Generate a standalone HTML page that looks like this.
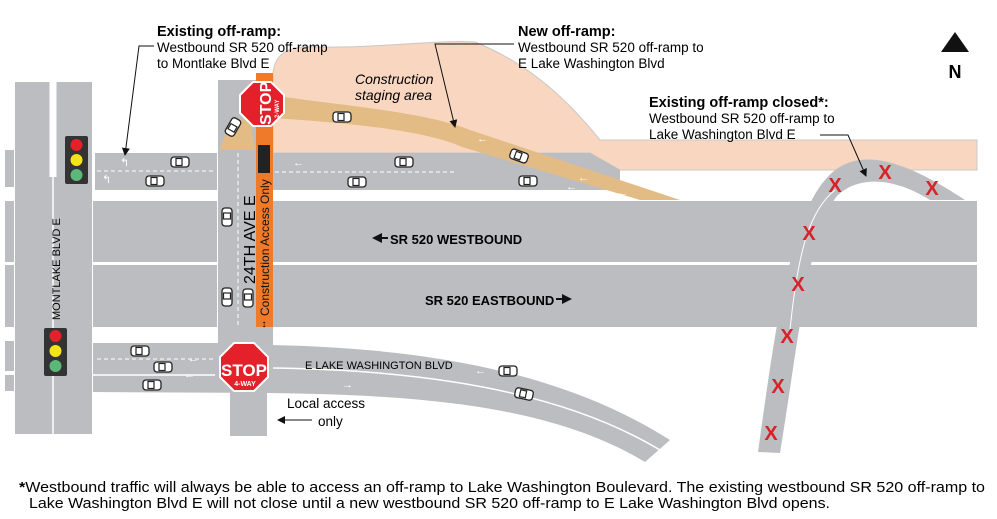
<!DOCTYPE html>
<html><head><meta charset="utf-8"><style>
body{margin:0;background:#fff}
svg{display:block;font-family:"Liberation Sans",Arial,sans-serif}
</style></head><body>
<svg width="997" height="519" viewBox="0 0 997 519" xmlns="http://www.w3.org/2000/svg">
<defs>
<marker id="ah" markerWidth="8" markerHeight="8" refX="7" refY="4" orient="auto" markerUnits="userSpaceOnUse"><path d="M0,0 L8,4 L0,8 Z" fill="#111"/></marker>
<g id="car"><rect x="-9" y="-5" width="18" height="10" rx="3" fill="#fff" stroke="#222" stroke-width="1.3"/><rect x="-4" y="-3.5" width="6" height="7" fill="none" stroke="#222" stroke-width="1.2"/></g>
</defs>
<!-- staging area -->
<path d="M273,73 C275,55 285,45 320,47 C380,48 430,40 475,42 C520,60 560,90 600,140 L977,140 L977,170 L620,170 L590,153 L273,153 Z" fill="#f8d6c0" stroke="#c8c8c8" stroke-width="1"/>
<g fill="#bcbdc0">
<rect x="5" y="150" width="9" height="37"/><rect x="5" y="201" width="9" height="61"/><rect x="5" y="265" width="9" height="62"/><rect x="5" y="341" width="9" height="30"/><rect x="5" y="375" width="9" height="16"/>
<rect x="15" y="82" width="77" height="352"/>
<rect x="95" y="153" width="122" height="37"/>
<path d="M273,153 L590,153 L620,170 L620,190 L273,190 Z"/>
<rect x="93" y="201" width="124" height="61"/><rect x="273" y="201" width="704" height="61"/>
<rect x="93" y="265" width="124" height="62"/><rect x="273" y="265" width="704" height="62"/>
<rect x="218" y="80" width="55" height="265"/>
<rect x="230" y="390" width="37" height="46"/>
<path d="M93,343 L270,343 L270,345 C420,348 560,370 670,440 L645,462 C550,405 420,395 270,393 L93,392 Z"/>
</g>
<path d="M273,368 C420,370 560,390 660,450" stroke="#fff" stroke-width="1.5" fill="none"/>
<line x1="53" y1="82" x2="53" y2="177" stroke="#fff" stroke-width="7"/>
<line x1="53" y1="177" x2="53" y2="434" stroke="#fff" stroke-width="1.5"/>
<g stroke="#fff" stroke-width="1" stroke-dasharray="4,3" fill="none">
<line x1="97" y1="171" x2="214" y2="171"/><line x1="275" y1="172" x2="455" y2="172"/>
<line x1="238" y1="153" x2="238" y2="325"/><line x1="97" y1="359" x2="214" y2="359"/>
</g>
<line x1="93" y1="375" x2="215" y2="375" stroke="#fff" stroke-width="1.5"/>
<path d="M273,95 C330,105 420,110 470,130 L680,200 L640,200 L462,147 C420,128 330,122 273,118 Z" fill="#e3bb84"/>
<path d="M220,150 C225,130 235,120 250,118 L255,150 Z" fill="#e3bb84"/>
<rect x="256" y="73" width="17" height="254" fill="#ee7a2a"/>
<rect x="258" y="145" width="12" height="28" fill="#222"/>
<text transform="translate(269,316) rotate(-90)" font-size="12" fill="#111">Construction Access Only</text>
<text x="264" y="327" font-size="10" text-anchor="middle">↕</text>
<!-- closed ramp -->
<path d="M758,452 C775,330 790,220 825,180 C850,150 890,150 965,200 L930,200 C895,178 860,175 838,195 C810,225 800,330 780,453 Z" fill="#bcbdc0"/>
<path d="M790,330 C798,250 810,210 835,190" stroke="#fff" stroke-width="1" fill="none"/>
<g fill="#d72228" font-size="20" font-weight="bold" text-anchor="middle">
<text x="835" y="192">X</text><text x="885" y="179">X</text><text x="932" y="195">X</text>
<text x="809" y="240">X</text><text x="798" y="291">X</text><text x="787" y="343">X</text><text x="778" y="393">X</text><text x="771" y="440">X</text>
</g>
<use href="#car" x="180" y="162"/><use href="#car" x="155" y="181"/><use href="#car" x="404" y="162"/><use href="#car" x="357" y="182"/><use href="#car" x="342" y="117"/><use href="#car" x="519" y="156" transform="rotate(20 519 156)"/><use href="#car" x="528" y="181"/>
<use href="#car" x="233" y="127" transform="rotate(-60 233 127)"/>
<use href="#car" x="227" y="217" transform="rotate(90 227 217)"/><use href="#car" x="227" y="297" transform="rotate(90 227 297)"/><use href="#car" x="248" y="298" transform="rotate(90 248 298)"/>
<use href="#car" x="140" y="351"/><use href="#car" x="163" y="367"/><use href="#car" x="152" y="385"/><use href="#car" x="508" y="371"/><use href="#car" x="524" y="394" transform="rotate(12 524 394)"/>
<g fill="#fff" font-size="11"><text x="293" y="166">←</text><text x="477" y="142">←</text><text x="566" y="190">←</text><text x="578" y="181">←</text><text x="617" y="196">←</text><text x="188" y="362">←</text><text x="184" y="378">←</text><text x="342" y="388">→</text><text x="475" y="374">←</text><text x="120" y="166">↰</text><text x="102" y="183">↰</text></g>
<rect x="65" y="136" width="23" height="48" rx="2" fill="#333"/><circle cx="76.5" cy="145" r="6" fill="#e4202a"/><circle cx="76.5" cy="160" r="6" fill="#f5e31a"/><circle cx="76.5" cy="175" r="6" fill="#5cb878"/>
<rect x="44" y="328" width="23" height="48" rx="2" fill="#333"/><circle cx="55.5" cy="336" r="6" fill="#e4202a"/><circle cx="55.5" cy="351" r="6" fill="#f5e31a"/><circle cx="55.5" cy="366" r="6" fill="#5cb878"/>
<polygon points="253,82 271,82 284,95 284,113 271,126 253,126 240,113 240,95" fill="#e4202a" stroke="#fff" stroke-width="2"/>
<text transform="translate(271,125) rotate(-90)" font-size="16" font-weight="bold" fill="#fff">STOP</text>
<text transform="translate(279,118) rotate(-90)" font-size="6" font-weight="bold" fill="#fff">2-WAY</text>
<polygon points="234,343 254,343 268,357 268,377 254,391 234,391 220,377 220,357" fill="#e4202a" stroke="#fff" stroke-width="2"/>
<text x="244" y="376" font-size="17" font-weight="bold" fill="#fff" text-anchor="middle">STOP</text>
<text x="245" y="386" font-size="7" font-weight="bold" fill="#fff" text-anchor="middle">4-WAY</text>
<text transform="translate(60,320) rotate(-90)" font-size="11">MONTLAKE BLVD E</text>
<text transform="translate(255,284) rotate(-90)" font-size="16">24TH AVE E</text>
<text x="390" y="244" font-size="13" font-weight="bold">SR 520 WESTBOUND</text>
<path d="M372,238 L382,233 L382,243 Z" fill="#111"/><line x1="380" y1="238" x2="388" y2="238" stroke="#111" stroke-width="2"/>
<text x="425" y="305" font-size="13" font-weight="bold">SR 520 EASTBOUND</text>
<path d="M572,299 L562,294 L562,304 Z" fill="#111"/><line x1="556" y1="299" x2="564" y2="299" stroke="#111" stroke-width="2"/>
<text x="305" y="369" font-size="11">E LAKE WASHINGTON BLVD</text>
<text x="287" y="408" font-size="13.5">Local access</text><text x="318" y="426" font-size="13.5">only</text>
<line x1="312" y1="420" x2="278" y2="420" stroke="#111" stroke-width="1" marker-end="url(#ah)"/>
<text x="355" y="84" font-size="14" font-style="italic">Construction</text>
<text x="355" y="100" font-size="14" font-style="italic">staging area</text>
<g font-size="13.5">
<text x="157" y="36" font-weight="bold" font-size="14.5">Existing off-ramp:</text>
<text x="157" y="52">Westbound SR 520 off-ramp</text><text x="157" y="68">to Montlake Blvd E</text>
<text x="518" y="36" font-weight="bold" font-size="14.5">New off-ramp:</text>
<text x="518" y="52">Westbound SR 520 off-ramp to</text><text x="518" y="68">E Lake Washington Blvd</text>
<text x="649" y="107" font-weight="bold" font-size="14.5">Existing off-ramp closed*:</text>
<text x="649" y="123">Westbound SR 520 off-ramp to</text><text x="649" y="139">Lake Washington Blvd E</text>
</g>
<polyline points="154,46 139,46 125,155" fill="none" stroke="#111" stroke-width="1" marker-end="url(#ah)"/>
<polyline points="514,44 435,44 455,127" fill="none" stroke="#111" stroke-width="1" marker-end="url(#ah)"/>
<polyline points="820,135 848,135 866,176" fill="none" stroke="#111" stroke-width="1" marker-end="url(#ah)"/>
<path d="M955,32 L969,52 L941,52 Z" fill="#111"/>
<text x="955" y="78" font-size="18" font-weight="bold" text-anchor="middle">N</text>
<text x="19" y="492" font-size="15" textLength="966" lengthAdjust="spacingAndGlyphs"><tspan font-weight="bold">*</tspan>Westbound traffic will always be able to access an off-ramp to Lake Washington Boulevard. The existing westbound SR 520 off-ramp to</text>
<text x="29" y="508" font-size="15" textLength="801" lengthAdjust="spacingAndGlyphs">Lake Washington Blvd E will not close until a new westbound SR 520 off-ramp to E Lake Washington Blvd opens.</text>
</svg>
</body></html>
